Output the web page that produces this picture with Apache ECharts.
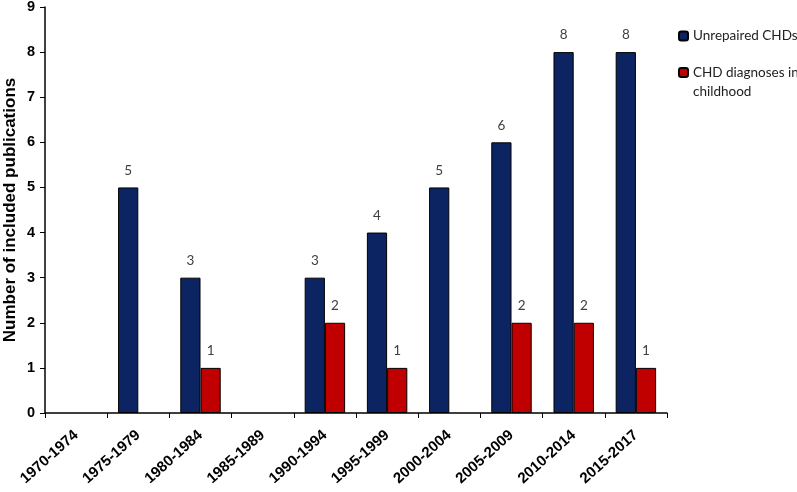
<!DOCTYPE html>
<html><head><meta charset="utf-8">
<script src="https://cdn.jsdelivr.net/npm/echarts@6/dist/echarts.min.js"></script>
<style>html,body{margin:0;padding:0;background:#fff}#c{width:797px;height:492px}</style>
</head><body><div id="c"></div>
<script>
const categories = ['1970-1974','1975-1979','1980-1984','1985-1989','1990-1994','1995-1999','2000-2004','2005-2009','2010-2014','2015-2017'];
const unrepaired = ['-',5,3,'-',3,4,5,6,8,8];
const childhood = ['-','-',1,'-',2,1,'-',2,2,1];
const yTicks = [0,1,2,3,4,5,6,7,8,9];

const chart = echarts.init(document.getElementById('c'));
const labelStyle = {show:true, position:'top', distance:10, color:'#404040', fontSize:13.5, fontFamily:'Lato'};
chart.setOption({
  animation:false,
  grid:{left:45, right:130, top:7, bottom:79, outerBoundsMode:'none'},
  legend:[{
    data:['Unrepaired CHDs'], orient:'vertical', left:678, top:29, padding:0,
    itemWidth:9, itemHeight:9, itemGap:10,
    textStyle:{fontSize:13.5, fontFamily:'Lato', color:'#222'}
  },{
    data:['CHD diagnoses in childhood'], orient:'vertical', left:678, top:44, padding:0,
    itemWidth:9, itemHeight:9,
    formatter:()=> ' \nCHD diagnoses in\nchildhood',
    textStyle:{fontSize:13.5, fontFamily:'Lato', color:'#222', lineHeight:19}
  }],
  xAxis:{
    type:'category', data:categories,
    axisLine:{lineStyle:{color:'#000', width:1.5}},
    axisTick:{show:true, length:5, lineStyle:{color:'#000'}},
    axisLabel:{rotate:42, interval:0, color:'#000', fontWeight:'bold', fontSize:15, fontFamily:'Liberation Sans', margin:20}
  },
  yAxis:{
    type:'value', min:0, max:9, interval:1,
    name:'Number of included publications', nameLocation:'middle', nameGap:26, nameMoveOverlap:false,
    nameTextStyle:{fontWeight:'bold', fontSize:17, color:'#000', fontFamily:'Liberation Sans'},
    axisLine:{show:true, lineStyle:{color:'#000', width:1.5}},
    axisTick:{show:true, length:5, inside:false, lineStyle:{color:'#000'}},
    splitLine:{show:false},
    axisLabel:{color:'#000', fontWeight:'bold', fontSize:14.5, fontFamily:'Liberation Sans', margin:10,
      formatter:v=> yTicks.includes(v) ? String(v) : ''}
  },
  series:[{
    name:'Unrepaired CHDs', type:'bar', data:unrepaired, barGap:'0%', barCategoryGap:'35%',
    itemStyle:{color:'#0c2461', borderColor:'#000', borderWidth:1},
    label:labelStyle
  },{
    name:'CHD diagnoses in childhood', type:'bar', data:childhood,
    itemStyle:{color:'#c00000', borderColor:'#000', borderWidth:1},
    label:labelStyle
  }]
});
</script></body></html>
